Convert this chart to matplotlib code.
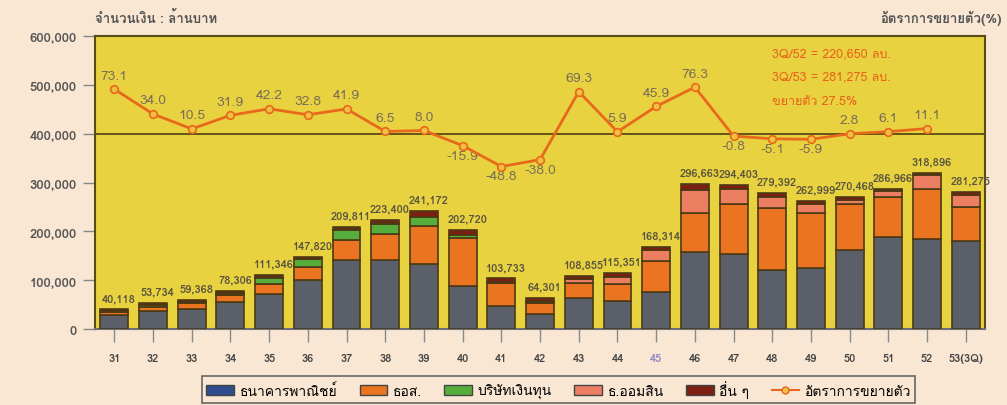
import numpy as np
import matplotlib
matplotlib.use('Agg')
import matplotlib.pyplot as plt
from matplotlib import font_manager, ft2font
from matplotlib.patches import Patch
from matplotlib.lines import Line2D


def find_thai_font():
    # pick the first installed family that actually has Thai glyphs
    for f in font_manager.fontManager.ttflist:
        try:
            if ord('ก') in ft2font.FT2Font(f.fname).get_charmap():
                return f.name
        except Exception:
            pass
    return None


thai = find_thai_font()
plt.rcParams['font.family'] = [thai, 'DejaVu Sans'] if thai else ['DejaVu Sans']

years = ['31', '32', '33', '34', '35', '36', '37', '38', '39', '40', '41', '42',
         '43', '44', '45', '46', '47', '48', '49', '50', '51', '52', '53(3Q)']
totals = [40118, 53734, 59368, 78306, 111346, 147820, 209811, 223400, 241172, 202720,
          103733, 64301, 108855, 115351, 168314, 296663, 294403, 279392, 262999,
          270468, 286966, 318896, 281275]
bank = [28000, 37000, 41000, 56000, 71000, 101000, 141000, 141000, 134000, 88000,
        48000, 31000, 63000, 58000, 76000, 157000, 153000, 121000, 126000, 161000,
        188000, 184000, 180000]
ghb = [7000, 9000, 12000, 13000, 21000, 27000, 41000, 54000, 78000, 99000,
       46000, 23000, 31000, 34000, 63000, 81000, 104000, 127000, 112000, 94000,
       82000, 102000, 70000]
finance = [3000, 3000, 2000, 3000, 13000, 15000, 21000, 21000, 17000, 5000,
           1000, 500, 0, 0, 0, 0, 0, 0, 0, 0, 0, 0, 0]
gsb = [0, 1000, 1000, 1000, 1000, 1000, 1000, 1000, 1000, 1000,
       1000, 2000, 8000, 15000, 22000, 46000, 30000, 22000, 19000, 10000,
       12000, 30000, 25000]
others = [2118, 3734, 3368, 5306, 5346, 3820, 5811, 6400, 11172, 9720,
          7733, 7801, 6855, 8351, 7314, 12663, 7403, 9392, 5999, 5468,
          4966, 2896, 6275]
# yearly growth rate (%), no value for the 3Q column
growth = [73.1, 34.0, 10.5, 31.9, 42.2, 32.8, 41.9, 6.5, 8.0, -15.9, -48.8, -38.0,
          69.3, 5.9, 45.9, 76.3, -0.8, -5.1, -5.9, 2.8, 6.1, 11.1]

series = [bank, ghb, finance, gsb, others]
names = ['ธนาคารพาณิชย์', 'ธอส.', 'บริษัทเงินทุน', 'ธ.ออมสิน', 'อื่น ๆ']
bar_colors = ['#5b5f69', '#ea7420', '#56ad3c', '#ec7f62', '#7c1f12']
legend_colors = ['#2f4d8f', '#ea7420', '#56ad3c', '#ec7f62', '#7c1f12']

bg = '#f9e7d4'
fig = plt.figure(figsize=(10.07, 4.06), dpi=100, facecolor=bg)
ax = fig.add_axes([0.0943, 0.187, 0.884, 0.722])
ax.set_facecolor('#e9d23f')

x = np.arange(len(years))
bottom = np.zeros(len(years))
for vals, c in zip(series, bar_colors):
    ax.bar(x, vals, 0.72, bottom=bottom, color=c, edgecolor='#4c3a14', linewidth=1.2, zorder=3)
    bottom += np.array(vals)

for xi, t in zip(x, totals):
    ax.text(xi + 0.12, t + 13000, f'{t:,}', ha='center', va='bottom', fontsize=8,
            fontweight='bold', color='#5a5540', zorder=4)

ax.axhline(400000, color='#5a4a14', lw=1.3, zorder=2)
ax.set_xlim(-0.5, len(years) - 0.5)
ax.set_ylim(0, 600000)
ax.set_yticks(np.arange(0, 600001, 100000))
ax.set_yticklabels([f'{v:,}' for v in range(0, 600001, 100000)])
ax.set_xticks(x)
ax.set_xticklabels(years)
ax.tick_params(axis='y', length=9, width=1, color='#888888', labelsize=9.5,
               labelcolor='#555555', pad=4)
ax.tick_params(axis='x', length=9, width=1, color='#888888', labelsize=8,
               labelcolor='#444444', pad=8)
for lab in ax.get_yticklabels() + ax.get_xticklabels():
    lab.set_fontweight('bold')
ax.get_xticklabels()[years.index('45')].set_color('#8c86c8')
for s in ax.spines.values():
    s.set_color('#5a4a14')
    s.set_linewidth(1.5)
ax.spines['bottom'].set_color('#6b6f7a')

# growth line on its own scale, zero sitting on the 400,000 gridline
ax2 = ax.twinx()
ax2.set_ylim(-305, 157)
ax2.set_yticks([])
for s in ax2.spines.values():
    s.set_visible(False)
ax2.plot(x[:len(growth)], growth, color='#e8681c', lw=2, marker='o', ms=5.5,
         mfc='#f0c040', mec='#e8681c', mew=1.2, zorder=5)
for xi, g in zip(x, growth):
    off = 12 if g >= 0 else -25
    ax2.text(xi, g + off, f'{g:.1f}', ha='center', va='bottom', fontsize=10,
             color='#7a7058')

note = '#e8601c'
ax.text(17.0, 565000, '3Q/52 = 220,650 ลบ.', fontsize=9, color=note, va='center')
ax.text(17.0, 517000, '3Q/53 = 281,275 ลบ.', fontsize=9, color=note, va='center')
ax.text(17.0, 467000, 'ขยายตัว 27.5%', fontsize=9, color=note, va='center')

fig.text(0.094, 0.955, 'จำนวนเงิน : ล้านบาท', fontsize=9.5, fontweight='bold',
         color='#555555', va='center', ha='left')
fig.text(0.995, 0.955, 'อัตราการขยายตัว(%)', fontsize=9.5, fontweight='bold',
         color='#555555', va='center', ha='right')

handles = [Patch(facecolor=c, edgecolor='#444444') for c in legend_colors]
handles.append(Line2D([], [], color='#e8681c', marker='o', ms=5, mfc='#f0c040'))
leg = fig.legend(handles, names + ['อัตราการขยายตัว'], loc='center', ncol=6,
                 bbox_to_anchor=(0.555, 0.038), frameon=True, fancybox=False,
                 fontsize=10, handlelength=2.0, columnspacing=1.6, handletextpad=0.4,
                 borderpad=0.3)
leg.get_frame().set_edgecolor('#444444')
leg.get_frame().set_facecolor(bg)
leg.get_frame().set_linewidth(1.2)

fig.savefig('out.png', dpi=100, facecolor=bg)
